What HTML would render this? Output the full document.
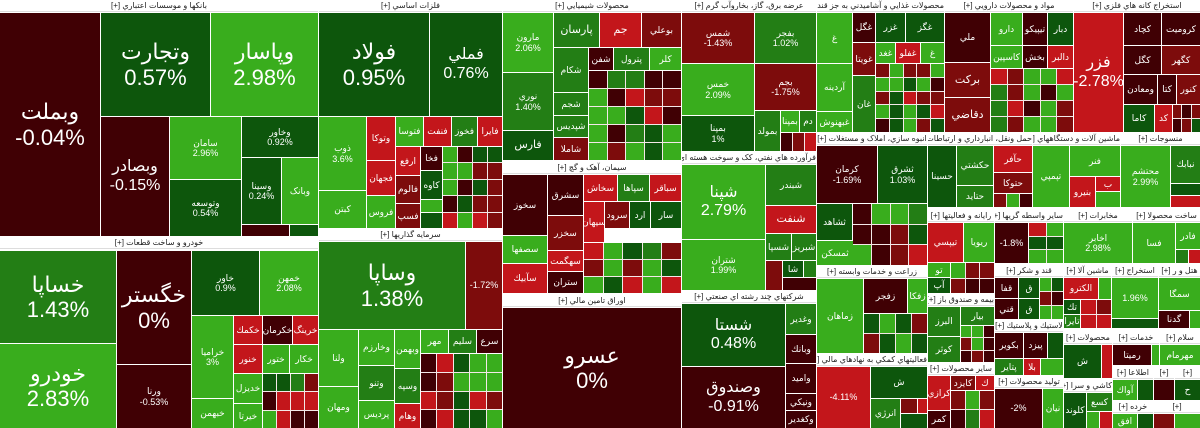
<!DOCTYPE html>
<html><head><meta charset="utf-8">
<style>
body{margin:0;width:1200px;height:428px;overflow:hidden;background:#fff;position:relative;font-family:"Liberation Sans","DejaVu Sans",sans-serif}
i,h6,.m{position:absolute;box-sizing:border-box;margin:0}
i{font-style:normal;color:#fff;display:flex;align-items:center;justify-content:center;text-align:center;font-size:9px;line-height:1.15;overflow:hidden;direction:ltr;flex-direction:column}
h6{height:12px;background:#fff;color:#222;font-size:8px;font-weight:normal;text-align:center;line-height:12px;direction:rtl;white-space:nowrap;overflow:hidden;border-bottom:1px solid #ddd}
.m{display:grid;gap:1px;background:#f4e8e8}
.m b{display:block}
.r0{background:#400004}.r1{background:#7d0c0c}.r2{background:#c3161b}
.g0{background:#0d560c}.g1{background:#237e15}.g2{background:#39ad1d}
.L{font-size:22px}.M{font-size:16px}.S{font-size:11px}
</style></head><body>

<!-- Banks -->
<h6 style="left:0;top:0;width:318px">بانکها و موسسات اعتباري [+]</h6>
<i class="r0 L" style="left:0;top:13px;width:100px;height:223px">وبملت<br>-0.04%</i>
<i class="g0 L" style="left:101px;top:13px;width:109px;height:103px">وتجارت<br>0.57%</i>
<i class="g2 L" style="left:211px;top:13px;width:107px;height:103px">وپاسار<br>2.98%</i>
<i class="r0 M" style="left:101px;top:117px;width:68px;height:119px">وبصادر<br>-0.15%</i>
<i class="g2" style="left:170px;top:117px;width:71px;height:62px">سامان<br>2.96%</i>
<i class="g0" style="left:242px;top:117px;width:76px;height:40px">وخاور<br>0.92%</i>
<i class="g0" style="left:170px;top:180px;width:71px;height:56px">وتوسعه<br>0.54%</i>
<i class="g0" style="left:242px;top:158px;width:39px;height:66px">وسينا<br>0.24%</i>
<i class="g2" style="left:282px;top:158px;width:36px;height:66px">وبانک</i>
<i class="r0" style="left:242px;top:225px;width:47px;height:11px"></i>
<i class="g0" style="left:290px;top:225px;width:28px;height:11px"></i>

<!-- Auto -->
<h6 style="left:0;top:237px;width:318px">خودرو و ساخت قطعات [+]</h6>
<i class="g1 L" style="left:0;top:251px;width:116px;height:92px">خساپا<br>1.43%</i>
<i class="g2 L" style="left:0;top:344px;width:116px;height:84px">خودرو<br>2.83%</i>
<i class="r0 L" style="left:117px;top:251px;width:74px;height:113px">خگستر<br>0%</i>
<i class="r0" style="left:117px;top:365px;width:74px;height:63px">ورنا<br>-0.53%</i>
<i class="g0" style="left:192px;top:251px;width:67px;height:64px">خاور<br>0.9%</i>
<i class="g2" style="left:260px;top:251px;width:58px;height:64px">خمهن<br>2.08%</i>
<i class="g2" style="left:192px;top:316px;width:41px;height:82px">خراميا<br>3%</i>
<i class="g2" style="left:192px;top:399px;width:41px;height:29px">خبهمن</i>
<i class="r2" style="left:234px;top:316px;width:28px;height:28px">خكمك</i>
<i class="r0" style="left:263px;top:316px;width:29px;height:28px">خكرمان</i>
<i class="r2" style="left:293px;top:316px;width:25px;height:28px">خرينگ</i>
<i class="r2" style="left:234px;top:345px;width:28px;height:28px">خنور</i>
<i class="g2" style="left:263px;top:345px;width:26px;height:28px">ختور</i>
<i class="g2" style="left:290px;top:345px;width:28px;height:28px">خكار</i>
<i class="g2" style="left:234px;top:374px;width:28px;height:29px">خديزل</i>
<i class="g2" style="left:234px;top:404px;width:28px;height:24px">خيرتا</i>
<div class="m" style="left:263px;top:374px;width:55px;height:54px;grid-template-columns:repeat(4,1fr)"><b class=g0></b><b class=g0></b><b class=g1></b><b class=r1></b><b class=r0></b><b class=r2></b><b class=r2></b><b class=r2></b><b class=g2></b><b class=r2></b><b class=r0></b><b class=r0></b></div>

<!-- Base metals -->
<h6 style="left:319px;top:0;width:183px">فلزات اساسي [+]</h6>
<i class="g0 L" style="left:319px;top:13px;width:110px;height:103px">فولاد<br>0.95%</i>
<i class="g0 M" style="left:430px;top:13px;width:72px;height:103px">فملي<br>0.76%</i>
<i class="g2" style="left:319px;top:117px;width:47px;height:73px">ذوب<br>3.6%</i>
<i class="g2" style="left:319px;top:191px;width:47px;height:37px">کبتن</i>
<i class="r2" style="left:367px;top:117px;width:28px;height:43px">وتوكا</i>
<i class="r2" style="left:367px;top:161px;width:28px;height:34px">فجهان</i>
<i class="g2" style="left:367px;top:196px;width:28px;height:32px">فروس</i>
<i class="g2" style="left:396px;top:117px;width:27px;height:29px">فتوسا</i>
<i class="r2" style="left:424px;top:117px;width:27px;height:29px">فنفت</i>
<i class="g1" style="left:452px;top:117px;width:25px;height:29px">فخوز</i>
<i class="r2" style="left:478px;top:117px;width:24px;height:29px">فايرا</i>
<i class="r2" style="left:396px;top:147px;width:24px;height:28px">ارفع</i>
<i class="r1" style="left:396px;top:176px;width:24px;height:27px">فالوم</i>
<i class="r1" style="left:396px;top:204px;width:24px;height:24px">فسپ</i>
<i class="r0" style="left:421px;top:147px;width:21px;height:23px">فخا</i>
<i class="g0" style="left:421px;top:171px;width:21px;height:28px">كاوه</i>
<i class="g2" style="left:421px;top:200px;width:21px;height:12px"></i>
<i class="g0" style="left:421px;top:213px;width:21px;height:15px"></i>
<div class="m" style="left:443px;top:147px;width:59px;height:81px;grid-template-columns:repeat(4,1fr);grid-template-rows:repeat(5,1fr)"><b class=g2></b><b class=r0></b><b class=g0></b><b class=g0></b><b class=g2></b><b class=g2></b><b class=r1></b><b class=r1></b><b class=g2></b><b class=r0></b><b class=g0></b><b class=r1></b><b class=r0></b><b class=g0></b><b class=r1></b><b class=r1></b><b class=r2></b><b class=g2></b><b class=r2></b><b class=r1></b></div>

<!-- Capital investors -->
<h6 style="left:319px;top:229px;width:183px">سرمايه گذاريها [+]</h6>
<i class="g1 L" style="left:319px;top:242px;width:146px;height:87px">وساپا<br>1.38%</i>
<i class="r1" style="left:466px;top:242px;width:36px;height:87px">-1.72%</i>
<i class="g2" style="left:319px;top:330px;width:39px;height:56px">ولنا</i>
<i class="g2" style="left:319px;top:387px;width:39px;height:41px">ومهان</i>
<i class="g2" style="left:359px;top:330px;width:35px;height:35px">وخارزم</i>
<i class="g1" style="left:359px;top:366px;width:35px;height:34px">وتنو</i>
<i class="g2" style="left:359px;top:401px;width:35px;height:27px">پرديس</i>
<i class="g2" style="left:395px;top:330px;width:25px;height:38px">وبهمن</i>
<i class="g1" style="left:395px;top:369px;width:25px;height:34px">وسپه</i>
<i class="r2" style="left:395px;top:404px;width:25px;height:24px">وهام</i>
<i class="g2" style="left:421px;top:330px;width:27px;height:23px">مهر</i>
<i class="g1" style="left:449px;top:330px;width:27px;height:23px">سليم</i>
<i class="r0" style="left:477px;top:330px;width:25px;height:23px">سرع</i>
<div class="m" style="left:421px;top:354px;width:81px;height:74px;grid-template-columns:repeat(5,1fr);grid-template-rows:repeat(4,1fr)"><b class=r0></b><b class=r2></b><b class=g0></b><b class=g2></b><b class=g2></b><b class=r0></b><b class=r1></b><b class=g2></b><b class=g2></b><b class=g2></b><b class=r2></b><b class=r1></b><b class=g0></b><b class=r2></b><b class=r1></b><b class=r0></b><b class=r2></b><b class=g0></b><b class=g0></b><b class=g2></b></div>

<!-- Chemicals -->
<h6 style="left:503px;top:0;width:178px">محصولات شيميايي [+]</h6>
<i class="g2" style="left:503px;top:13px;width:50px;height:59px">مارون<br>2.06%</i>
<i class="g1" style="left:503px;top:73px;width:50px;height:57px">نوري<br>1.40%</i>
<i class="g0 S" style="left:503px;top:131px;width:50px;height:29px">فارس</i>
<i class="g1 S" style="left:554px;top:13px;width:45px;height:34px">پارسان</i>
<i class="r2 S" style="left:600px;top:13px;width:41px;height:34px">جم</i>
<i class="r1" style="left:642px;top:13px;width:39px;height:34px">بوعلي</i>
<i class="g1" style="left:554px;top:48px;width:34px;height:44px">شكام</i>
<i class="g1" style="left:554px;top:93px;width:34px;height:22px">شجم</i>
<i class="g1" style="left:554px;top:116px;width:34px;height:21px">شپديس</i>
<i class="r1" style="left:554px;top:138px;width:34px;height:22px">شاملا</i>
<i class="r0" style="left:589px;top:48px;width:24px;height:22px">شفن</i>
<i class="g1" style="left:614px;top:48px;width:35px;height:22px">پترول</i>
<i class="g2" style="left:650px;top:48px;width:31px;height:22px">كلر</i>
<div class="m" style="left:589px;top:71px;width:92px;height:89px;grid-template-columns:repeat(5,1fr);grid-template-rows:repeat(5,1fr)"><b class=r0></b><b class=g1></b><b class=g1></b><b class=r0></b><b class=r0></b><b class=g2></b><b class=r0></b><b class=r2></b><b class=r1></b><b class=r1></b><b class=g2></b><b class=g2></b><b class=g0></b><b class=r2></b><b class=r0></b><b class=g2></b><b class=r0></b><b class=g1></b><b class=g0></b><b class=g2></b><b class=g2></b><b class=r1></b><b class=g2></b><b class=g0></b><b class=g2></b></div>

<!-- Cement -->
<h6 style="left:503px;top:162px;width:178px">سيمان، آهک و گچ [+]</h6>
<i class="r0" style="left:503px;top:175px;width:44px;height:60px">سخوز</i>
<i class="g2" style="left:503px;top:236px;width:44px;height:27px">سصفها</i>
<i class="r2" style="left:503px;top:264px;width:44px;height:29px">سآبيك</i>
<i class="r0" style="left:548px;top:175px;width:35px;height:40px">سشرق</i>
<i class="r1" style="left:548px;top:216px;width:35px;height:34px">سخزر</i>
<i class="r2" style="left:548px;top:251px;width:35px;height:20px">سهگمت</i>
<i class="r0" style="left:548px;top:272px;width:35px;height:21px">ستران</i>
<i class="r2" style="left:584px;top:175px;width:33px;height:26px">سخاش</i>
<i class="g1" style="left:618px;top:175px;width:31px;height:26px">سپاها</i>
<i class="r2" style="left:650px;top:175px;width:31px;height:26px">سباقر</i>
<i class="r2" style="left:584px;top:202px;width:20px;height:40px">سيهان</i>
<i class="r1" style="left:605px;top:202px;width:24px;height:26px">سرود</i>
<i class="g0" style="left:630px;top:202px;width:20px;height:26px">ارد</i>
<i class="g0" style="left:651px;top:202px;width:30px;height:26px">سار</i>
<div class="m" style="left:584px;top:243px;width:97px;height:50px;grid-template-columns:repeat(5,1fr);grid-template-rows:repeat(3,1fr)"><b class=r2></b><b class=g2></b><b class=g0></b><b class=g1></b><b class=r1></b><b class=r1></b><b class=g2></b><b class=r1></b><b class=g2></b><b class=g0></b><b class=g2></b><b class=g0></b><b class=r2></b><b class=g2></b><b class=r2></b></div>
<h6 style="left:503px;top:295px;width:178px">اوراق تامين مالي [+]</h6>
<i class="r0 L" style="left:503px;top:308px;width:178px;height:120px">عسرو<br>0%</i>

<!-- Energy -->
<h6 style="left:682px;top:0;width:134px">عرضه برق، گاز، بخاروآب گرم [+]</h6>
<i class="r1" style="left:682px;top:13px;width:72px;height:50px">شمس<br>-1.43%</i>
<i class="g1" style="left:755px;top:13px;width:61px;height:50px">بفجر<br>1.02%</i>
<i class="g2" style="left:682px;top:64px;width:72px;height:51px">خمس<br>2.09%</i>
<i class="r1" style="left:755px;top:64px;width:61px;height:46px">بجم<br>-1.75%</i>
<i class="g0" style="left:682px;top:116px;width:72px;height:35px">بمپنا<br>1%</i>
<i class="g1" style="left:755px;top:111px;width:25px;height:40px">بمولد</i>
<i class="g2" style="left:781px;top:111px;width:18px;height:21px">بمپنا</i>
<i class="g1" style="left:800px;top:111px;width:16px;height:21px">دم</i>
<div class="m" style="left:781px;top:133px;width:35px;height:18px;grid-template-columns:repeat(3,1fr)"><b class=r0></b><b class=r1></b><b class=r2></b></div>

<!-- Oil products -->
<h6 style="left:682px;top:152px;width:134px">فرآورده هاي نفتي، كک و سوخت هسته اي [+]</h6>
<i class="g2 M" style="left:682px;top:165px;width:83px;height:74px">شپنا<br>2.79%</i>
<i class="g2" style="left:682px;top:240px;width:83px;height:50px">شتران<br>1.99%</i>
<i class="g1" style="left:766px;top:165px;width:50px;height:40px">شبندر</i>
<i class="r2 S" style="left:766px;top:206px;width:50px;height:27px">شنفت</i>
<i class="g1" style="left:766px;top:234px;width:25px;height:26px">شسپا</i>
<i class="g1" style="left:792px;top:234px;width:24px;height:26px">شبريز</i>
<i class="r1" style="left:766px;top:261px;width:16px;height:29px"></i>
<i class="g0" style="left:783px;top:261px;width:20px;height:16px">شا</i>
<i class="g1" style="left:804px;top:261px;width:12px;height:16px"></i>
<i class="r0" style="left:783px;top:278px;width:33px;height:12px"></i>
<h6 style="left:682px;top:291px;width:134px">شرکتهاي چند رشته اي صنعتي [+]</h6>
<i class="g0 M" style="left:682px;top:304px;width:103px;height:62px">شستا<br>0.48%</i>
<i class="r0 M" style="left:682px;top:367px;width:103px;height:61px">وصندوق<br>-0.91%</i>
<i class="g1" style="left:786px;top:304px;width:30px;height:30px">وغدير</i>
<i class="r0" style="left:786px;top:335px;width:30px;height:28px">وبانك</i>
<i class="r0" style="left:786px;top:364px;width:30px;height:29px">واميد</i>
<i class="r0" style="left:786px;top:394px;width:30px;height:16px">ونيكي</i>
<i class="r0" style="left:786px;top:411px;width:30px;height:17px">وكغدير</i>

<!-- Food -->
<h6 style="left:817px;top:0;width:127px">محصولات غذايي و آشاميدني به جز قند و [+]</h6>
<i class="g2" style="left:817px;top:13px;width:35px;height:50px">غ</i>
<i class="g2" style="left:817px;top:64px;width:35px;height:47px">آردينه</i>
<i class="g2" style="left:817px;top:112px;width:35px;height:20px">غبهنوش</i>
<i class="r0" style="left:853px;top:13px;width:22px;height:29px">غگل</i>
<i class="g0" style="left:876px;top:13px;width:29px;height:29px">غزر</i>
<i class="g0" style="left:906px;top:13px;width:38px;height:29px">غگز</i>
<i class="r1" style="left:853px;top:43px;width:22px;height:32px">غويتا</i>
<i class="g2" style="left:876px;top:43px;width:19px;height:20px">غغد</i>
<i class="r2" style="left:896px;top:43px;width:24px;height:20px">غفلو</i>
<i class="g2" style="left:921px;top:43px;width:23px;height:20px">غ</i>
<i class="g1" style="left:853px;top:76px;width:22px;height:56px">غان</i>
<div class="m" style="left:876px;top:64px;width:68px;height:68px;grid-template-columns:repeat(5,1fr);grid-template-rows:repeat(5,1fr)"><b class=r1></b><b class=g2></b><b class=r1></b><b class=r1></b><b class=g2></b><b class=g2></b><b class=g2></b><b class=g0></b><b class=g2></b><b class=r0></b><b class=r1></b><b class=g0></b><b class=r2></b><b class=r1></b><b class=r1></b><b class=g2></b><b class=g0></b><b class=g2></b><b class=g0></b><b class=r2></b><b class=r0></b><b class=g0></b><b class=g2></b><b class=r1></b><b class=g0></b></div>

<!-- Pharma -->
<h6 style="left:945px;top:0;width:128px">مواد و محصولات دارويي [+]</h6>
<i class="r0" style="left:945px;top:13px;width:45px;height:49px">ملي</i>
<i class="r1 S" style="left:945px;top:63px;width:45px;height:34px">بركت</i>
<i class="r1 S" style="left:945px;top:98px;width:45px;height:34px">دقاضي</i>
<i class="g2" style="left:991px;top:13px;width:31px;height:32px">دارو</i>
<i class="r0" style="left:1023px;top:13px;width:24px;height:32px">تيپيكو</i>
<i class="g0" style="left:1048px;top:13px;width:25px;height:32px">دبار</i>
<i class="g2" style="left:991px;top:46px;width:31px;height:22px">كاسپين</i>
<i class="r0" style="left:1023px;top:46px;width:24px;height:22px">بخش</i>
<i class="r2" style="left:1048px;top:46px;width:25px;height:22px">دالبر</i>
<div class="m" style="left:991px;top:69px;width:82px;height:63px;grid-template-columns:repeat(5,1fr);grid-template-rows:repeat(4,1fr)"><b class=r2></b><b class=r1></b><b class=g2></b><b class=g2></b><b class=r2></b><b class=g1></b><b class=r1></b><b class=g2></b><b class=r0></b><b class=g2></b><b class=g1></b><b class=r2></b><b class=r0></b><b class=g2></b><b class=r1></b><b class=g1></b><b class=r1></b><b class=g2></b><b class=g2></b><b class=r1></b></div>

<!-- Mining -->
<h6 style="left:1074px;top:0;width:126px">استخراج كانه هاي فلزي [+]</h6>
<i class="r2 M" style="left:1074px;top:13px;width:49px;height:119px">فزر<br>-2.78%</i>
<i class="r0" style="left:1124px;top:13px;width:37px;height:32px">كچاد</i>
<i class="r0" style="left:1162px;top:13px;width:38px;height:32px">كروميت</i>
<i class="r0" style="left:1124px;top:46px;width:37px;height:28px">كگل</i>
<i class="r1" style="left:1162px;top:46px;width:38px;height:28px">كگهر</i>
<i class="r0" style="left:1124px;top:75px;width:33px;height:29px">ومعادن</i>
<i class="r0" style="left:1158px;top:75px;width:18px;height:29px">كتا</i>
<i class="r1" style="left:1177px;top:75px;width:23px;height:29px">كنور</i>
<i class="g0" style="left:1124px;top:105px;width:30px;height:27px">كاما</i>
<i class="r2" style="left:1155px;top:105px;width:17px;height:27px">كد</i>
<div class="m" style="left:1173px;top:105px;width:27px;height:27px;grid-template-columns:repeat(3,1fr)"><b class=r1></b><b class=r0></b><b class=r1></b><b class=r0></b><b class=r1></b><b class=g0></b></div>

<!-- Construction -->
<h6 style="left:817px;top:133px;width:110px">انبوه سازي، املاک و مستغلات [+]</h6>
<i class="r0" style="left:817px;top:146px;width:60px;height:57px">كرمان<br>-1.69%</i>
<i class="g0" style="left:878px;top:146px;width:49px;height:57px">ثشرق<br>1.03%</i>
<i class="g0" style="left:817px;top:204px;width:35px;height:36px">ثشاهد</i>
<i class="g2" style="left:817px;top:241px;width:36px;height:24px">ثمسكن</i>
<div class="m" style="left:853px;top:204px;width:74px;height:61px;grid-template-columns:repeat(4,1fr);grid-template-rows:repeat(3,1fr)"><b class=r0></b><b class=g2></b><b class=g2></b><b class=g1></b><b class=r0></b><b class=r0></b><b class=r1></b><b class=g0></b><b class=g2></b><b class=r0></b><b class=r1></b><b class=r2></b></div>
<h6 style="left:817px;top:266px;width:110px">زراعت و خدمات وابسته [+]</h6>
<i class="g2" style="left:817px;top:279px;width:46px;height:74px">زماهان</i>
<i class="r0" style="left:864px;top:279px;width:43px;height:34px">زفجر</i>
<i class="g2" style="left:908px;top:279px;width:19px;height:34px">زفكا</i>
<div class="m" style="left:864px;top:314px;width:63px;height:39px;grid-template-columns:repeat(4,1fr);grid-template-rows:repeat(2,1fr)"><b class=g0></b><b class=g2></b><b class=g0></b><b class=r1></b><b class=r1></b><b class=g0></b><b class=g2></b><b class=g0></b></div>
<h6 style="left:817px;top:354px;width:110px">فعاليتهاي كمكي به نهادهاي مالي [+]</h6>
<i class="r2" style="left:817px;top:367px;width:53px;height:61px">-4.11%</i>
<i class="g0" style="left:871px;top:367px;width:56px;height:31px">ش</i>
<i class="g1" style="left:871px;top:399px;width:29px;height:29px">انرژي</i>
<i class="r1" style="left:901px;top:399px;width:16px;height:14px"></i>
<i class="r2" style="left:918px;top:399px;width:9px;height:14px"></i>
<i class="g0" style="left:901px;top:414px;width:26px;height:14px"></i>

<!-- Transport -->
<h6 style="left:928px;top:133px;width:104px">حمل ونقل، انبارداري و ارتباطات [+]</h6>
<i class="g0" style="left:928px;top:146px;width:28px;height:61px">حسينا</i>
<i class="g1" style="left:957px;top:146px;width:36px;height:39px">حكشتي</i>
<i class="g1" style="left:957px;top:186px;width:36px;height:21px">حتايد</i>
<i class="r2" style="left:994px;top:146px;width:38px;height:26px">حآفر</i>
<i class="r1" style="left:994px;top:173px;width:38px;height:20px">حتوكا</i>
<div class="m" style="left:994px;top:194px;width:38px;height:13px;grid-template-columns:repeat(3,1fr)"><b class=r1></b><b class=g2></b><b class=r0></b></div>
<!-- Machinery -->
<h6 style="left:1033px;top:133px;width:87px">ماشين آلات و دستگاههاي [+]</h6>
<i class="g2" style="left:1033px;top:146px;width:36px;height:61px">تپمپي</i>
<i class="g2" style="left:1070px;top:146px;width:50px;height:30px">فنر</i>
<i class="r2" style="left:1070px;top:177px;width:25px;height:30px">بنيرو</i>
<i class="r2" style="left:1096px;top:177px;width:24px;height:14px">ب</i>
<i class="g2" style="left:1096px;top:192px;width:24px;height:15px"></i>
<!-- Textiles -->
<h6 style="left:1121px;top:133px;width:79px">منسوجات [+]</h6>
<i class="g2" style="left:1121px;top:146px;width:49px;height:61px">محتشم<br>2.99%</i>
<i class="g1" style="left:1171px;top:146px;width:29px;height:37px">نبابك</i>
<i class="g0" style="left:1171px;top:184px;width:29px;height:11px"></i>
<i class="r2" style="left:1171px;top:196px;width:29px;height:11px"></i>

<!-- Computers / Insurance / etc -->
<h6 style="left:928px;top:210px;width:66px">رايانه و فعاليتها [+]</h6>
<i class="r2" style="left:928px;top:223px;width:35px;height:39px">تيپسي</i>
<i class="g2" style="left:964px;top:223px;width:30px;height:39px">ريويا</i>
<i class="g2" style="left:928px;top:263px;width:22px;height:14px">تو</i>
<i class="g0" style="left:928px;top:278px;width:22px;height:15px">آپ</i>
<div class="m" style="left:951px;top:263px;width:43px;height:30px;grid-template-columns:repeat(3,1fr);grid-template-rows:repeat(2,1fr)"><b class=g2></b><b class=r1></b><b class=r1></b><b class=r1></b><b class=r0></b><b class=r0></b></div>
<h6 style="left:928px;top:294px;width:66px">بيمه و صندوق باز [+]</h6>
<i class="g1" style="left:928px;top:307px;width:32px;height:29px">البرز</i>
<i class="g1" style="left:928px;top:337px;width:32px;height:25px">كوثر</i>
<i class="g1" style="left:961px;top:307px;width:33px;height:18px">بيار</i>
<div class="m" style="left:961px;top:326px;width:33px;height:36px;grid-template-columns:repeat(3,1fr);grid-template-rows:repeat(3,1fr)"><b class=g2></b><b class=g2></b><b class=r0></b><b class=r1></b><b class=g2></b><b class=r0></b><b class=r0></b><b class=r1></b><b class=r0></b></div>
<h6 style="left:928px;top:363px;width:66px">ساير محصولات [+]</h6>
<i class="r2" style="left:928px;top:376px;width:22px;height:34px">كرازي</i>
<i class="r1" style="left:951px;top:376px;width:24px;height:14px">كايزد</i>
<i class="r2" style="left:976px;top:376px;width:18px;height:14px">ك</i>
<i class="r0" style="left:928px;top:411px;width:22px;height:17px">كمر</i>
<div class="m" style="left:951px;top:391px;width:43px;height:37px;grid-template-columns:repeat(3,1fr);grid-template-rows:repeat(2,1fr)"><b class=r1></b><b class=g2></b><b class=r1></b><b class=r0></b><b class=g1></b><b class=r2></b></div>

<h6 style="left:995px;top:210px;width:68px">ساير واسطه گريها [+]</h6>
<i class="r0" style="left:995px;top:223px;width:33px;height:40px">-1.8%</i>
<div class="m" style="left:1029px;top:223px;width:34px;height:40px;grid-template-columns:repeat(2,1fr);grid-template-rows:repeat(3,1fr)"><b class=r2></b><b class=g2></b><b class=g0></b><b class=g0></b><b class=g2></b><b class=g2></b></div>
<h6 style="left:995px;top:265px;width:68px">قند و شكر [+]</h6>
<i class="r0" style="left:995px;top:278px;width:23px;height:20px">قفا</i>
<i class="g0" style="left:1019px;top:278px;width:20px;height:20px">ق</i>
<i class="r0" style="left:995px;top:299px;width:23px;height:20px">قني</i>
<i class="g0" style="left:1019px;top:299px;width:20px;height:20px">ق</i>
<div class="m" style="left:1040px;top:278px;width:23px;height:41px;grid-template-columns:repeat(2,1fr);grid-template-rows:repeat(3,1fr)"><b class=g2></b><b class=g0></b><b class=r1></b><b class=r0></b><b class=g2></b><b class=g2></b></div>
<h6 style="left:995px;top:320px;width:68px">لاستيك و پلاستيك [+]</h6>
<i class="r0" style="left:995px;top:333px;width:28px;height:25px">بكوير</i>
<i class="r0" style="left:1024px;top:333px;width:23px;height:25px">پيزد</i>
<i class="g0" style="left:1048px;top:333px;width:15px;height:25px"></i>
<i class="g1" style="left:995px;top:359px;width:28px;height:16px">پتاير</i>
<i class="r2" style="left:1024px;top:359px;width:16px;height:16px">بلا</i>
<i class="g2" style="left:1041px;top:359px;width:22px;height:16px"></i>
<h6 style="left:995px;top:376px;width:68px">توليد محصولات [+]</h6>
<i class="r0" style="left:995px;top:389px;width:47px;height:39px">-2%</i>
<i class="g2" style="left:1043px;top:389px;width:20px;height:39px">نيان</i>

<h6 style="left:1064px;top:210px;width:68px">مخابرات [+]</h6>
<i class="g2" style="left:1064px;top:223px;width:68px;height:40px">اخابر<br>2.98%</i>
<h6 style="left:1133px;top:210px;width:67px">ساخت محصولا [+]</h6>
<i class="g2" style="left:1133px;top:223px;width:42px;height:40px">فسا</i>
<i class="g2" style="left:1176px;top:223px;width:24px;height:26px">فادر</i>
<i class="g1" style="left:1176px;top:250px;width:12px;height:13px"></i>
<i class="r2" style="left:1189px;top:250px;width:11px;height:13px"></i>

<h6 style="left:1064px;top:265px;width:47px">ماشين آلا [+]</h6>
<i class="r2" style="left:1064px;top:278px;width:34px;height:21px">الكترو</i>
<i class="g2" style="left:1099px;top:278px;width:12px;height:21px"></i>
<i class="g0" style="left:1064px;top:300px;width:16px;height:14px">تك</i>
<i class="g1" style="left:1064px;top:315px;width:16px;height:13px">تايرا</i>
<div class="m" style="left:1081px;top:300px;width:30px;height:28px;grid-template-columns:repeat(2,1fr);grid-template-rows:repeat(2,1fr)"><b class=r2></b><b class=r1></b><b class=r2></b><b class=r2></b></div>
<h6 style="left:1112px;top:265px;width:46px">استخراج [+]</h6>
<i class="g2" style="left:1112px;top:278px;width:46px;height:40px">1.96%</i>
<i class="g0" style="left:1112px;top:319px;width:46px;height:9px"></i>
<h6 style="left:1159px;top:265px;width:41px">هتل و ر [+]</h6>
<i class="g2" style="left:1159px;top:278px;width:41px;height:32px">سمگا</i>
<i class="r0" style="left:1159px;top:311px;width:30px;height:17px">گدنا</i>
<i class="g2" style="left:1190px;top:311px;width:10px;height:17px"></i>

<h6 style="left:1064px;top:332px;width:48px">محصولات [+]</h6>
<i class="g0" style="left:1064px;top:345px;width:37px;height:33px">ش</i>
<i class="r2" style="left:1102px;top:345px;width:10px;height:33px"></i>
<h6 style="left:1113px;top:332px;width:46px">خدمات [+]</h6>
<i class="r0" style="left:1113px;top:345px;width:38px;height:20px">رميتا</i>
<i class="g2" style="left:1152px;top:345px;width:7px;height:20px"></i>
<h6 style="left:1160px;top:332px;width:40px">سلام [+]</h6>
<i class="g2" style="left:1160px;top:345px;width:40px;height:20px">مهرمام</i>
<h6 style="left:1113px;top:367px;width:40px">اطلاعا [+]</h6>
<h6 style="left:1154px;top:367px;width:20px">[+]</h6>
<h6 style="left:1175px;top:367px;width:25px">[+]</h6>
<i class="g2" style="left:1113px;top:380px;width:24px;height:20px">آواك</i>
<i class="g0" style="left:1138px;top:380px;width:15px;height:20px"></i>
<i class="r0" style="left:1154px;top:380px;width:20px;height:20px"></i>
<i class="g0" style="left:1175px;top:380px;width:25px;height:20px">ح</i>
<h6 style="left:1064px;top:380px;width:48px">كاشي و سرا [+]</h6>
<i class="g0" style="left:1064px;top:393px;width:22px;height:35px">كلوند</i>
<i class="g1" style="left:1087px;top:393px;width:25px;height:18px">كسع</i>
<i class="g2" style="left:1087px;top:412px;width:12px;height:16px"></i>
<i class="r2" style="left:1100px;top:412px;width:12px;height:16px"></i>
<h6 style="left:1113px;top:401px;width:40px">خرده [+]</h6>
<h6 style="left:1154px;top:401px;width:46px">[+]</h6>
<i class="g2" style="left:1113px;top:414px;width:24px;height:14px">افق</i>
<i class="g0" style="left:1138px;top:414px;width:15px;height:14px"></i>
<i class="r1" style="left:1154px;top:414px;width:20px;height:14px"></i>
<i class="g2" style="left:1175px;top:414px;width:25px;height:14px"></i>

</body></html>
